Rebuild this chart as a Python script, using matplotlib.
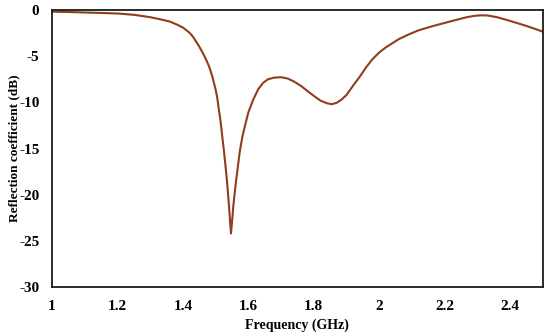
import matplotlib
matplotlib.use("Agg")
import matplotlib.pyplot as plt

freq = [1.00, 1.05, 1.10, 1.15, 1.20, 1.25, 1.30, 1.33, 1.36, 1.38, 1.40, 1.42,
        1.43, 1.44, 1.45, 1.46, 1.47, 1.48, 1.49, 1.50, 1.505, 1.51, 1.515, 1.52,
        1.525, 1.53, 1.535, 1.54, 1.544, 1.547, 1.550, 1.554, 1.559, 1.564, 1.574,
        1.582, 1.59, 1.60, 1.615, 1.63, 1.645, 1.66, 1.68, 1.70, 1.72, 1.74, 1.76,
        1.78, 1.80, 1.82, 1.84, 1.855, 1.87, 1.885, 1.90, 1.92, 1.94, 1.96, 1.98,
        2.00, 2.02, 2.04, 2.06, 2.09, 2.12, 2.165, 2.215, 2.265, 2.29, 2.31, 2.33,
        2.36, 2.39, 2.42, 2.45, 2.475, 2.50]
s11 = [-0.18, -0.22, -0.27, -0.32, -0.38, -0.52, -0.78, -1.0, -1.25, -1.55, -1.9, -2.45,
       -2.85, -3.4, -3.95, -4.6, -5.3, -6.1, -7.2, -8.6, -9.5, -10.8, -12.0, -13.6,
       -15.1, -16.8, -18.6, -20.8, -22.8, -24.2, -23.0, -21.3, -19.6, -18.1, -15.3,
       -13.7, -12.5, -11.1, -9.7, -8.6, -7.9, -7.5, -7.32, -7.28, -7.42, -7.75, -8.2,
       -8.75, -9.3, -9.8, -10.1, -10.2, -10.05, -9.7, -9.2, -8.2, -7.25, -6.2, -5.3,
       -4.6, -4.05, -3.6, -3.15, -2.65, -2.2, -1.73, -1.26, -0.8, -0.64, -0.58, -0.59,
       -0.78, -1.08, -1.4, -1.73, -2.03, -2.35]

xticks = [1, 1.2, 1.4, 1.6, 1.8, 2, 2.2, 2.4]
xticklabels = ["1", "1.2", "1.4", "1.6", "1.8", "2", "2.2", "2.4"]
yticks = [0, -5, -10, -15, -20, -25, -30]

plt.rcParams['font.family'] = ['Liberation Serif', 'DejaVu Serif']
plt.rcParams['font.weight'] = 'bold'
plt.rcParams['axes.unicode_minus'] = False

fig = plt.figure(figsize=(5.5, 3.33), dpi=100)
ax = fig.add_axes([0.0945, 0.138, 0.8925, 0.832])
ax.plot(freq, s11, color='#8f3d1c', lw=1.5)
ax.set_xlim(1, 2.5)
ax.set_ylim(-30, 0)
ax.set_xticks(xticks)
ax.set_xticklabels(xticklabels)
ax.set_yticks(yticks)
ax.tick_params(length=0, labelsize=11, pad=9)
ax.tick_params(axis='y', pad=9)
for lab in ax.get_xticklabels() + ax.get_yticklabels():
    lab.set_fontweight('bold')
for s in ax.spines.values():
    s.set_linewidth(1.3)
    s.set_color('#1a1a1a')
ax.set_xlabel("Frequency (GHz)", fontsize=10, fontweight='bold', labelpad=4)
ax.set_ylabel("Reflection coefficient (dB)", fontsize=9.5, fontweight='bold')
ax.yaxis.set_label_coords(-0.0652, 0.5)
fig.savefig("out.png", dpi=100)
